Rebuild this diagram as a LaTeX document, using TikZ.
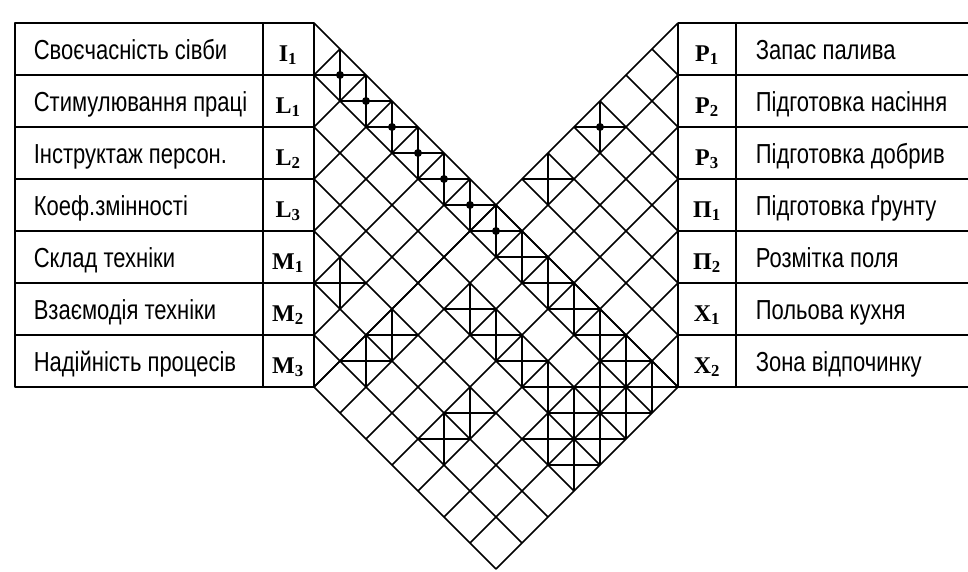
\documentclass[tikz,border=0pt]{standalone}
\usepackage{fontspec}
\newfontfamily\lblfont[FakeStretch=0.8]{Liberation Sans}
\newfontfamily\symfont{Liberation Serif}
\newcommand\symb[2]{#1\textsubscript{#2}}
\begin{document}
\begin{tikzpicture}[x=1pt, y=-1pt, line width=1.6pt, line join=round,
  rowlabel/.style={anchor=base west, inner sep=0pt, font=\lblfont\fontsize{27.5}{32}\selectfont},
  rowsym/.style={anchor=base, inner sep=0pt, font=\symfont\bfseries\fontsize{24}{28}\selectfont},
  celldiag/.style={line width=1.3pt}]
  \useasboundingbox (0,0) rectangle (968,571);
  % Left table
  \draw (15,23) rectangle (314,387);
  \draw (263,23) -- (263,387);
  \foreach \k in {1,...,6} \draw (15,23+52*\k) -- (314,23+52*\k);
  \foreach \txt [count=\r] in {Своєчасність сівби, Стимулювання праці, Інструктаж персон., Коеф.змінності, Склад техніки, Взаємодія техніки, Надійність процесів}
    \node[rowlabel] (lab\r) at (33,52*\r+7) {\txt};
  \foreach \ltr/\idx [count=\r] in {I/1, L/1, L/2, L/3, M/1, M/2, M/3}
    \node[rowsym] (sym\r) at (288,52*\r+9) {\symb{\ltr}{\idx}};
  % Right table
  \draw (736,23) -- (736,387);
  \foreach \k in {0,...,7} \draw (678,23+52*\k) -- (968,23+52*\k);
  \foreach \ltr/\idx [count=\r] in {Р/1, Р/2, Р/3, П/1, П/2, Х/1, Х/2}
    \node[rowsym] (rsym\r) at (707,52*\r+9) {\symb{\ltr}{\idx}};
  \foreach \txt [count=\r] in {Запас палива, Підготовка насіння, Підготовка добрив, Підготовка ґрунту, Розмітка поля, Польова кухня, Зона відпочинку}
    \node[rowlabel] (rlab\r) at (755,52*\r+7) {\txt};
  % Grid
  \begin{scope}[shift={(314,23)}, x={(-26pt,-26pt)}, y={(26pt,-26pt)}]
    \foreach \i in {0,...,7} \draw (\i,\i) -- (\i,14);
    \foreach \i in {1,...,7} \draw (\i,\i) -- (0,\i);
    \foreach \j in {0,...,7} \draw ({\j-7},{\j+7}) -- (7,{\j+7});
    \foreach \j in {1,...,7} \draw ({\j-7},{\j+7}) -- ({\j-7},7);
    \draw (-7,7) -- (0,14);
    % marked cells
    \foreach \n/\m in {0/1, 0/2, 0/3, 0/4, 0/5, 0/6, 0/7, -4/7, -2/7, 4/5, 0/8, 0/9, 0/10, 0/11, 0/12, 0/13, 1/12, 1/13, 2/8, 2/9, 2/10, 2/11, 2/12, 2/13, 3/12, 3/13, 4/7, 5/7, 4/10, 5/10}
      \draw[celldiag] ({\n+1},\m) -- (\n,{\m+1}) (\n,\m) -- ({\n+1},{\m+1});
    \foreach \n/\m in {0/1, 0/2, 0/3, 0/4, 0/5, 0/6, 0/7, -4/7}
      \fill ({\n+.5},{\m+.5}) circle (4pt);
  \end{scope}
\end{tikzpicture}
\end{document}
